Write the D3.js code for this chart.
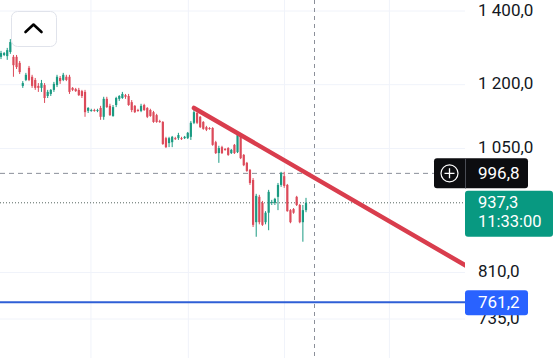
<!DOCTYPE html>
<html>
<head>
<meta charset="utf-8">
<script src="https://cdn.jsdelivr.net/npm/d3@7"></script>
<style>
  body { margin: 0; background: #fff; overflow: hidden; }
  svg { display: block; font-family: Roboto, "Noto Sans", sans-serif; }
</style>
</head>
<body>
<script>
// candles, oldest first
const opens = [1272,1277,1274,1285,1272,1272,1256,1197,1212,1243,
  1220,1212,1197,1192,1199,1172,1177,1187,1199,1217,
  1212,1220,1220,1192,1189,1187,1184,1182,1136,1136,
  1138,1136,1143,1122,1165,1148,1124,1150,1165,1167,
  1174,1172,1157,1148,1138,1136,1150,1143,1138,1133,
  1126,1112,1110,1073,1062,1064,1073,1073,1073,1073,
  1073,1076,1108,1131,1122,1110,1098,1096,1096,1064,
  1040,1053,1049,1051,1040,1058,1042,1078,1036,1019,
  1004,983,900,949,937,900,918,937,937,949,
  973,991,973,923,925,949,933,900,923];
const highs = [1288,1285,1296,1320,1277,1277,1261,1209,1230,1248,
  1225,1217,1204,1212,1204,1187,1189,1207,1225,1222,
  1230,1225,1225,1194,1192,1192,1187,1187,1145,1141,
  1141,1141,1148,1170,1170,1153,1150,1170,1174,1182,
  1177,1177,1162,1150,1141,1153,1153,1145,1141,1136,
  1129,1115,1112,1076,1076,1078,1076,1085,1076,1078,
  1087,1112,1143,1136,1124,1112,1101,1098,1098,1067,
  1056,1056,1051,1053,1049,1060,1085,1082,1038,1021,
  1006,987,955,953,941,921,963,943,947,977,
  1000,1000,975,925,927,951,935,933,947];
const lows = [1266,1274,1264,1280,1220,1240,1227,1192,1209,1209,
  1192,1187,1182,1182,1155,1167,1172,1182,1194,1202,
  1209,1209,1177,1184,1182,1172,1167,1122,1131,1134,
  1134,1133,1115,1115,1143,1124,1122,1145,1160,1165,
  1165,1148,1133,1131,1134,1133,1136,1119,1122,1108,
  1108,1108,1058,1051,1053,1053,1069,1069,1069,1071,
  1071,1069,1105,1105,1096,1092,1089,1092,1056,1038,
  1019,1038,1045,1034,1038,1038,1040,1027,1012,1000,
  973,891,873,896,893,896,885,933,933,923,
  969,967,920,898,916,931,898,864,919];
const closes = [1282,1282,1290,1312,1250,1245,1232,1204,1225,1212,
  1197,1192,1192,1204,1167,1182,1187,1202,1220,1209,
  1225,1212,1182,1187,1184,1174,1172,1133,1143,1138,
  1136,1138,1122,1165,1145,1126,1145,1167,1172,1177,
  1170,1150,1138,1133,1136,1148,1138,1122,1124,1110,
  1110,1110,1060,1053,1073,1076,1071,1080,1071,1076,
  1085,1108,1133,1108,1098,1094,1092,1094,1058,1040,
  1051,1040,1047,1036,1047,1040,1080,1029,1014,1002,
  977,895,951,900,895,918,959,939,945,973,
  998,971,921,900,918,933,900,923,937.3];

const priceTicks = [1400, 1200, 1050, 810, 735];
const tickLabels = ["1 400,0", "1 200,0", "1 050,0", "810,0", "735,0"];
const timeGrid = [28.9, 60.2, 91.1, 124.8];   // bar index of the vertical grid lines

const trendTimes = [62, 149.3];
const trendPrices = [1143, 822];

const lastPrice = 937.3, lastTime = "11:33:00";
const crossTime = 100.6, crossPrice = 996.8;
const alertPrice = 761.2;

const width = 559, height = 358, paneW = 465;

const svg = d3.select("body").append("svg")
  .attr("width", width)
  .attr("height", height);

const x = d3.scaleLinear().domain([0, closes.length - 1]).range([1, 306]);
const y = d3.scaleLog().domain([735, 1400]).range([319, 11]);

const fmt = v => d3.format(".1f")(v).replace(".", ",");

// grid
svg.append("g").selectAll("line").data(priceTicks).join("line")
  .attr("x1", 0).attr("x2", paneW)
  .attr("y1", d => y(d)).attr("y2", d => y(d))
  .attr("stroke", "#f0f3fa").attr("stroke-width", 1);

svg.append("g").selectAll("line").data(timeGrid).join("line")
  .attr("x1", d => x(d)).attr("x2", d => x(d))
  .attr("y1", 0).attr("y2", height)
  .attr("stroke", "#f0f3fa").attr("stroke-width", 1);

// tick labels
svg.append("g").selectAll("text").data(priceTicks).join("text")
  .attr("x", 478).attr("y", d => y(d) + 4.5)
  .attr("font-size", 17).attr("fill", "#131722")
  .text((d, i) => tickLabels[i]);

const pane = svg.append("g");

// last price dotted line + crosshair
pane.append("line")
  .attr("x1", 0).attr("x2", paneW)
  .attr("y1", y(lastPrice)).attr("y2", y(lastPrice))
  .attr("stroke", "#56655f").attr("stroke-width", 1)
  .attr("stroke-dasharray", "1,2");

pane.append("line")
  .attr("x1", 0).attr("x2", 434)
  .attr("y1", y(crossPrice)).attr("y2", y(crossPrice))
  .attr("stroke", "#8b8f99").attr("stroke-width", 1)
  .attr("stroke-dasharray", "5,4");

pane.append("line")
  .attr("x1", Math.round(x(crossTime)) + 0.5).attr("x2", Math.round(x(crossTime)) + 0.5)
  .attr("y1", 0).attr("y2", height)
  .attr("stroke", "#8b8f99").attr("stroke-width", 1)
  .attr("stroke-dasharray", "4,4");

// alert level
pane.append("line")
  .attr("x1", 0).attr("x2", paneW)
  .attr("y1", y(alertPrice)).attr("y2", y(alertPrice))
  .attr("stroke", "#2f5fd6").attr("stroke-width", 2);

// candles
const bars = d3.range(closes.length);
const up = i => closes[i] >= opens[i];
const colorOf = i => up(i) ? "#1a9a82" : "#dc4a5a";

pane.append("g").selectAll("line").data(bars).join("line")
  .attr("x1", i => x(i)).attr("x2", i => x(i))
  .attr("y1", i => y(highs[i])).attr("y2", i => y(lows[i]))
  .attr("stroke", colorOf).attr("stroke-width", 1);

pane.append("g").selectAll("rect").data(bars).join("rect")
  .attr("x", i => x(i) - 1.1)
  .attr("width", 2.2)
  .attr("y", i => y(Math.max(opens[i], closes[i])))
  .attr("height", i => Math.max(1, y(Math.min(opens[i], closes[i])) - y(Math.max(opens[i], closes[i]))))
  .attr("fill", colorOf);

// trend line
svg.append("clipPath").attr("id", "paneClip")
  .append("rect").attr("width", paneW).attr("height", height);

pane.append("line")
  .attr("clip-path", "url(#paneClip)")
  .attr("x1", x(trendTimes[0])).attr("y1", y(trendPrices[0]))
  .attr("x2", x(trendTimes[1])).attr("y2", y(trendPrices[1]))
  .attr("stroke", "#d93d4d").attr("stroke-width", 4.5)
  .attr("stroke-linecap", "round");

// price labels on the axis
const cy = y(crossPrice);
svg.append("rect").attr("x", 434).attr("y", cy - 15).attr("width", 94).attr("height", 30)
  .attr("rx", 3).attr("fill", "#0c0d10");
svg.append("line").attr("x1", 465.5).attr("x2", 465.5).attr("y1", cy - 15).attr("y2", cy + 15)
  .attr("stroke", "#4a4d55").attr("stroke-width", 1);
svg.append("circle").attr("cx", 449.5).attr("cy", cy).attr("r", 8.5)
  .attr("fill", "none").attr("stroke", "#fff").attr("stroke-width", 1.2);
svg.append("path")
  .attr("d", `M${449.5 - 5},${cy}H${449.5 + 5}M449.5,${cy - 5}V${cy + 5}`)
  .attr("stroke", "#fff").attr("stroke-width", 1.3);
svg.append("text").attr("x", 478).attr("y", cy + 6)
  .attr("font-size", 17).attr("fill", "#fff").text(fmt(crossPrice));

const ly = y(lastPrice);
svg.append("rect").attr("x", 465).attr("y", ly - 12).attr("width", 88).attr("height", 46)
  .attr("rx", 3).attr("fill", "#089981");
svg.append("text").attr("x", 478).attr("y", ly + 5)
  .attr("font-size", 16.5).attr("fill", "#fff").text(fmt(lastPrice));
svg.append("text").attr("x", 478).attr("y", ly + 24)
  .attr("font-size", 16.5).attr("fill", "#fff").text(lastTime);

const ay = y(alertPrice);
svg.append("rect").attr("x", 465).attr("y", ay - 12).attr("width", 63).attr("height", 25)
  .attr("rx", 3).attr("fill", "#2962ff");
svg.append("text").attr("x", 478).attr("y", ay + 6)
  .attr("font-size", 17).attr("fill", "#fff").text(fmt(alertPrice));

// collapse button
svg.append("rect").attr("x", 11.5).attr("y", 11.5).attr("width", 45).attr("height", 35)
  .attr("rx", 6).attr("fill", "#fff").attr("stroke", "#e0e3eb");
svg.append("path").attr("d", "M25.5,32L33.5,24.5L41.5,32")
  .attr("fill", "none").attr("stroke", "#000").attr("stroke-width", 2.6)
  .attr("stroke-linecap", "round").attr("stroke-linejoin", "round");
</script>
</body>
</html>
